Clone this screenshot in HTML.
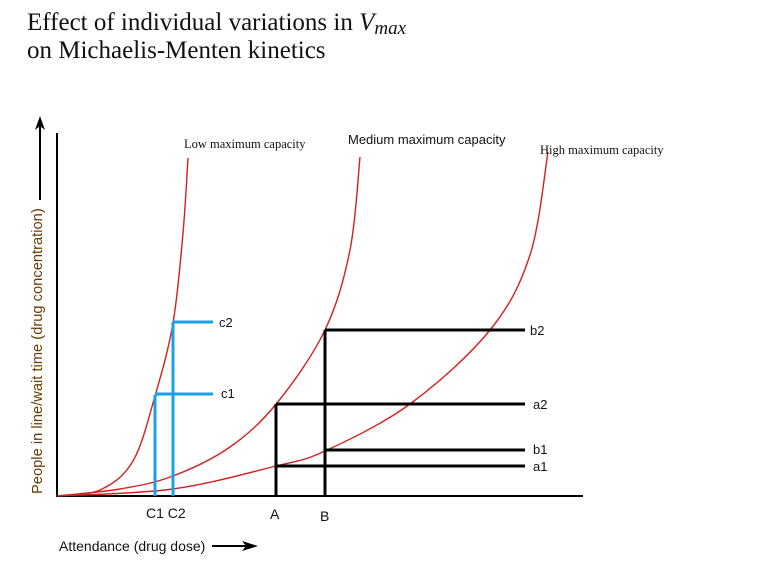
<!DOCTYPE html>
<html><head><style>body{margin:0;background:#fff}svg{display:block}</style></head>
<body>
<svg width="758" height="571" xmlns="http://www.w3.org/2000/svg">
<text x="27" y="30" font-family="Liberation Serif, serif" font-size="25" fill="#111">Effect of individual variations in <tspan font-style="italic">V</tspan><tspan font-style="italic" font-size="19" dy="4">max</tspan></text>
<text x="27" y="58" font-family="Liberation Serif, serif" font-size="25" fill="#111">on Michaelis-Menten kinetics</text>
<g stroke="#000" stroke-width="2" fill="none">
<line x1="57" y1="133" x2="57" y2="497"/>
<line x1="56" y1="496" x2="583" y2="496"/>
<line x1="40" y1="200" x2="40" y2="124"/>
<line x1="212" y1="546" x2="250" y2="546"/>
</g>
<polygon points="40,116 35,130 40,126 45,130" fill="#000"/>
<polygon points="258,546 242,541 246,546 242,551" fill="#000"/>
<g stroke="#d42020" stroke-width="1.4" fill="none" stroke-linejoin="round">
<path class="cr" data-p="57,496 100,490 133,461 155,396 173,323 183,233 188,158"/>
<path class="cr" data-p="57,496 120,489 173,476 230,447 277,403 325,330 350,250 360,157"/>
<path class="cr" data-p="57,496 173,489 276,466 325,451 410,404 490,330 530,255 548,152"/>
</g>
<g stroke="#1aa0e8" stroke-width="3" fill="none">
<line x1="155" y1="496" x2="155" y2="395"/>
<line x1="155" y1="394" x2="213" y2="394"/>
<line x1="173" y1="496" x2="173" y2="322"/>
<line x1="173" y1="322" x2="213" y2="322"/>
</g>
<g stroke="#000" stroke-width="3" fill="none">
<line x1="276" y1="496" x2="276" y2="404"/>
<line x1="276" y1="404" x2="525" y2="404"/>
<line x1="276" y1="466" x2="525" y2="466"/>
<line x1="325" y1="496" x2="325" y2="330"/>
<line x1="325" y1="330" x2="525" y2="330"/>
<line x1="325" y1="450" x2="525" y2="450"/>
</g>
<g font-family="Liberation Sans, sans-serif" font-size="13" fill="#111">
<text x="219" y="327">c2</text>
<text x="221" y="398">c1</text>
<text x="530" y="335">b2</text>
<text x="533" y="409">a2</text>
<text x="533" y="454">b1</text>
<text x="533" y="471">a1</text>
<text x="146" y="518" font-size="14">C1 C2</text>
<text x="270" y="519" font-size="14">A</text>
<text x="320" y="521" font-size="14">B</text>
<text x="59" y="551" font-size="14">Attendance (drug dose)</text>
<text x="348" y="144">Medium maximum capacity</text>
<text transform="translate(42,494) rotate(-90)" font-size="14.7" fill="#6b3a00">People in line/wait time (drug concentration)</text>
</g>
<g font-family="Liberation Serif, serif" font-size="12.5" fill="#111">
<text x="184" y="148">Low maximum capacity</text>
<text x="540" y="154">High maximum capacity</text>
</g>
</svg>
<script>
document.querySelectorAll('path.cr').forEach(function(el){
 var p=el.getAttribute('data-p').split(' ').map(function(s){return s.split(',').map(Number);});
 var d='M'+p[0][0]+','+p[0][1];
 for(var i=0;i<p.length-1;i++){
  var p0=p[i-1]||p[i],p1=p[i],p2=p[i+1],p3=p[i+2]||p[i+1];
  var c1=[p1[0]+(p2[0]-p0[0])/6,p1[1]+(p2[1]-p0[1])/6];
  var c2=[p2[0]-(p3[0]-p1[0])/6,p2[1]-(p3[1]-p1[1])/6];
  d+=' C'+c1.join(',')+' '+c2.join(',')+' '+p2.join(',');
 }
 el.setAttribute('d',d);
});
</script>
</body></html>
